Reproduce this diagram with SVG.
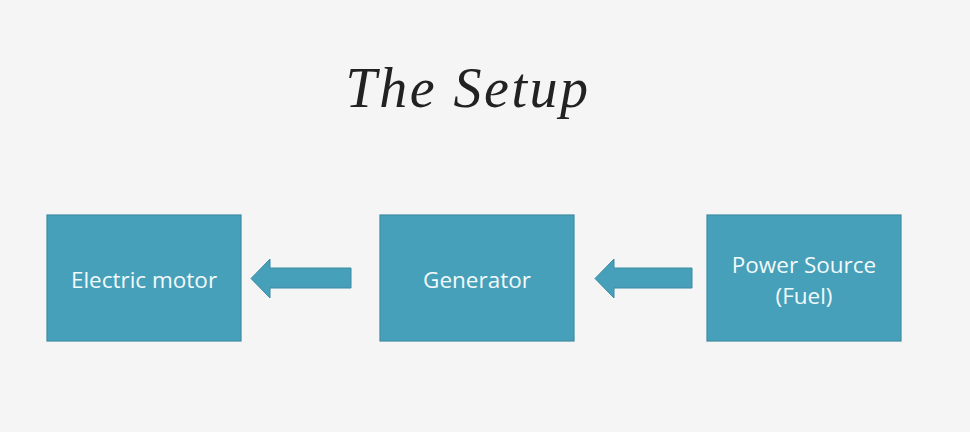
<svg xmlns="http://www.w3.org/2000/svg" width="970" height="432" viewBox="0 0 970 432">
<style>
.box{fill:#46a0b9;stroke:#3d8ca3;stroke-width:1.2}
.lbl{font-family:"Open Sans","Liberation Sans",sans-serif;font-size:22.5px;fill:#f2fafc;text-anchor:middle;dominant-baseline:central}
.arr{fill:#46a0b9;stroke:#3d8ca3;stroke-width:1}
.title{font-family:"Liberation Serif","DejaVu Serif",serif;font-style:italic;font-size:56px;letter-spacing:2.5px;fill:#222;text-anchor:middle}
</style>
<rect width="970" height="432" fill="#f5f5f5"/>
<text class="title" x="468" y="107">The Setup</text>
<g id="electric-motor"><rect class="box" x="47" y="215" width="194" height="126"/><text class="lbl" x="144" y="279">Electric motor</text></g>
<g id="generator"><rect class="box" x="380" y="215" width="194" height="126"/><text class="lbl" x="477" y="279">Generator</text></g>
<g id="power-source"><rect class="box" x="707" y="215" width="194" height="126"/><text class="lbl" x="804" y="264">Power Source</text><text class="lbl" x="804" y="295">(Fuel)</text></g>
<g id="connectors">
<polygon class="arr" points="351,268 270,268 270,259 251,278.5 270,298 270,288 351,288"/>
<polygon class="arr" points="692,268 614,268 614,259 595,278.5 614,298 614,288 692,288"/>
</g>
</svg>
